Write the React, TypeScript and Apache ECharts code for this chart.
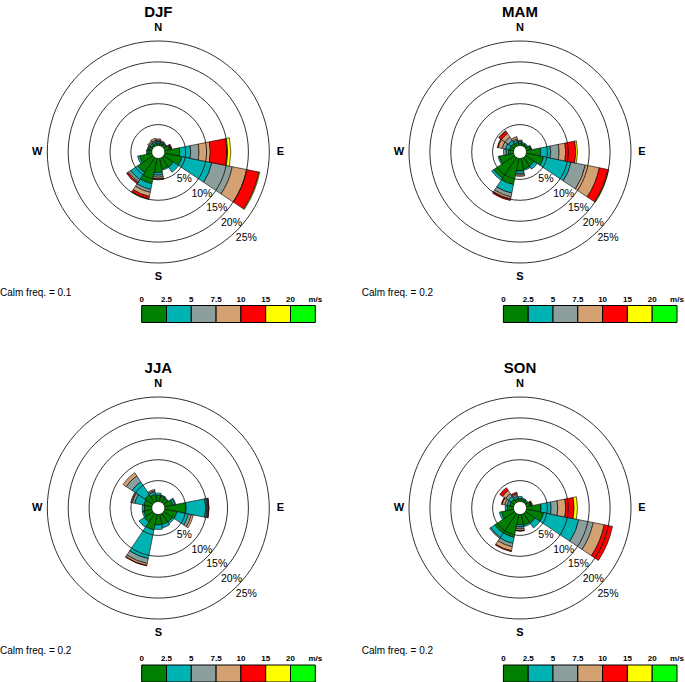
import React, { useEffect, useRef } from 'react';
import * as echarts from 'echarts';

// ---------- DATA ----------
const DIRECTIONS = ['N', 'NNE', 'NE', 'ENE', 'E', 'ESE', 'SE', 'SSE', 'S', 'SSW', 'SW', 'WSW', 'W', 'WNW', 'NW', 'NNW'];
const SPEED_BREAKS = ['0', '2.5', '5', '7.5', '10', '15', '20'];
const SPEED_UNIT = 'm/s';
const SPEED_COLORS = ['#008000', '#00B3B3', '#8C9F9C', '#D4A272', '#FF0000', '#FFFF00', '#00FF00'];
const GRID_PCT = [5, 10, 15, 20, 25];
const SEASONS = ['DJF', 'MAM', 'JJA', 'SON'];
const CALM_FREQ = ['0.1', '0.2', '0.2', '0.2'];

// frequency (%) by direction (N, NNE, ... NNW) for each speed bin
// DJF
const DJF_S1 = [0.6, 0.5, 0.6, 1.2, 3.6, 4.2, 2.8, 2.6, 3.4, 6.2, 4.4, 3.0, 1.0, 0.7, 0.5, 0.6];
const DJF_S2 = [0.4, 0.3, 0.2, 0.2, 2.6, 7.3, 1.5, 0.3, 0.6, 1.4, 2.0, 0.5, 0.3, 0.3, 0.4, 0.4];
const DJF_S3 = [0.3, 0.2, 0.2, 0.1, 2.0, 5.0, 0, 0, 0.5, 0.7, 0.6, 0, 0, 0.2, 0.3, 0.3];
const DJF_S4 = [0.3, 0.2, 0, 0.1, 2.7, 3.5, 0, 0, 0.4, 1.0, 0.3, 0, 0, 0, 0.3, 0.5];
const DJF_S5 = [0, 0, 0, 0.2, 4.0, 3.0, 0, 0, 0.2, 0.6, 0.3, 0, 0, 0, 0, 0];
const DJF_S6 = [0, 0, 0, 0, 0.9, 0.2, 0, 0, 0, 0.1, 0, 0, 0, 0, 0, 0];
const DJF_S7 = [0, 0, 0, 0, 0, 0, 0, 0, 0, 0, 0, 0, 0, 0, 0, 0];
// MAM
const MAM_S1 = [0.6, 0.5, 0.5, 1.0, 3.4, 4.2, 2.5, 2.6, 3.0, 6.4, 6.0, 3.5, 1.2, 1.0, 1.0, 0.8];
const MAM_S2 = [0.4, 0.3, 0.3, 0.2, 2.4, 6.7, 0.9, 0.3, 0.6, 2.1, 0.6, 0.3, 0.6, 1.0, 0.8, 0.5];
const MAM_S3 = [0.3, 0, 0, 0.1, 2.0, 3.5, 0, 0, 0.4, 0.9, 0, 0, 0.6, 0.8, 1.0, 0.4];
const MAM_S4 = [0, 0, 0, 0, 1.6, 3.4, 0, 0, 0.3, 0.5, 0, 0, 0, 1.0, 1.0, 0.5];
const MAM_S5 = [0, 0, 0, 0, 2.4, 2.1, 0, 0, 0, 0.4, 0, 0, 0, 0.2, 0.7, 0];
const MAM_S6 = [0, 0, 0, 0, 0.4, 0.2, 0, 0, 0, 0, 0, 0, 0, 0, 0.1, 0];
const MAM_S7 = [0, 0, 0, 0, 0, 0, 0, 0, 0, 0, 0, 0, 0, 0, 0, 0];
// JJA
const JJA_S1 = [1.5, 1.4, 1.2, 2.0, 5.1, 3.0, 2.5, 2.5, 2.5, 3.8, 2.5, 2.0, 1.8, 2.0, 2.3, 1.8];
const JJA_S2 = [0.5, 0.2, 0.2, 0.5, 4.7, 2.8, 0.5, 0.8, 1.1, 7.0, 1.5, 0.4, 0.5, 2.2, 3.7, 0.6];
const JJA_S3 = [0, 0, 0, 0.2, 0.5, 0.7, 0, 0, 0, 1.2, 0, 0, 0, 0.6, 1.7, 0.3];
const JJA_S4 = [0, 0, 0, 0, 0.2, 0.5, 0, 0, 0, 0.5, 0, 0, 0, 0.4, 0.9, 0.3];
const JJA_S5 = [0, 0, 0, 0, 0.1, 0, 0, 0, 0, 0.1, 0, 0, 0, 0, 0, 0];
const JJA_S6 = [0, 0, 0, 0, 0, 0, 0, 0, 0, 0, 0, 0, 0, 0, 0, 0];
const JJA_S7 = [0, 0, 0, 0, 0, 0, 0, 0, 0, 0, 0, 0, 0, 0, 0, 0];
// SON
const SON_S1 = [0.7, 0.6, 0.6, 1.0, 3.5, 4.2, 2.8, 2.6, 2.5, 5.6, 5.7, 3.0, 1.5, 1.0, 1.0, 0.8];
const SON_S2 = [0.5, 0.3, 0.2, 0.2, 2.4, 8.6, 1.4, 0.4, 0.5, 1.5, 1.2, 0.5, 0.5, 0.6, 0.8, 0.5];
const SON_S3 = [0, 0, 0, 0.1, 1.6, 3.5, 0, 0, 0.5, 0.8, 0.3, 0, 0, 0.6, 0.8, 0.4];
const SON_S4 = [0, 0, 0, 0, 1.9, 2.7, 0, 0, 0.4, 1.0, 0, 0, 0, 0.6, 0.9, 0.3];
const SON_S5 = [0, 0, 0, 0.2, 2.0, 2.0, 0, 0, 0.1, 0.2, 0, 0, 0, 0.2, 0.8, 0.3];
const SON_S6 = [0, 0, 0, 0, 0.8, 0, 0, 0, 0, 0, 0, 0, 0, 0, 0, 0];
const SON_S7 = [0, 0, 0, 0, 0, 0, 0, 0, 0, 0, 0, 0, 0, 0, 0, 0];

const SEASON_BINS = [
  [DJF_S1, DJF_S2, DJF_S3, DJF_S4, DJF_S5, DJF_S6, DJF_S7],
  [MAM_S1, MAM_S2, MAM_S3, MAM_S4, MAM_S5, MAM_S6, MAM_S7],
  [JJA_S1, JJA_S2, JJA_S3, JJA_S4, JJA_S5, JJA_S6, JJA_S7],
  [SON_S1, SON_S2, SON_S3, SON_S4, SON_S5, SON_S6, SON_S7],
];

// ---------- LAYOUT ----------
const FONT = '"Liberation Sans", Arial, Helvetica, sans-serif';
const PANEL_CENTERS = [
  [158.3, 152],
  [520, 152],
  [158.3, 508],
  [520, 508],
];
const OUTER_R = 111;
const R_MIN = -1.55;
const R_MAX = 25;
const LEGEND_TOP = [305.5, 305.5, 665, 665];
const CALM_Y = [292.5, 292.5, 650.5, 650.5];
const BOX_W = 24.8;
const BOX_H = 17;

function buildOption() {
  const polar: any[] = [];
  const angleAxis: any[] = [];
  const radiusAxis: any[] = [];
  const series: any[] = [];
  const graphic: any[] = [];

  SEASONS.forEach((name, i) => {
    const [cx, cy] = PANEL_CENTERS[i];
    polar.push({ center: [cx, cy], radius: [0, OUTER_R] });
    angleAxis.push({
      polarIndex: i,
      type: 'category',
      data: DIRECTIONS,
      startAngle: 90 + 360 / DIRECTIONS.length / 2,
      clockwise: true,
      boundaryGap: true,
      axisLine: { show: false },
      axisTick: { show: false },
      axisLabel: { show: false },
      splitLine: { show: false },
    });
    radiusAxis.push({
      polarIndex: i,
      type: 'value',
      min: R_MIN,
      max: R_MAX,
      axisLine: { show: false },
      axisTick: { show: false },
      axisLabel: { show: false },
      splitLine: { show: false },
    });

    SEASON_BINS[i].forEach((vals, b) => {
      series.push({
        type: 'bar',
        coordinateSystem: 'polar',
        polarIndex: i,
        stack: 'rose' + i,
        name: name + '-' + SPEED_BREAKS[b],
        barCategoryGap: '0%',
        data: vals.map((v) => (v > 0 ? v : '-')),
        itemStyle: { color: SPEED_COLORS[b], borderColor: '#000', borderWidth: 0.6 },
        z: 2,
        silent: true,
      });
    });

    series.push({
      type: 'custom',
      coordinateSystem: 'polar',
      polarIndex: i,
      clip: false,
      z: 5,
      silent: true,
      data: GRID_PCT.map((p) => [p, 0]),
      renderItem: (params: any, api: any) => {
        const pct = api.value(0);
        const cs = params.coordSys;
        const pt = api.coord([pct, 0]);
        const r = Math.hypot(pt[0] - cs.cx, pt[1] - cs.cy);
        const a = (135 * Math.PI) / 180;
        const lx = cs.cx + r * Math.sin(a);
        const ly = cs.cy - r * Math.cos(a);
        return {
          type: 'group',
          children: [
            {
              type: 'circle',
              shape: { cx: cs.cx, cy: cs.cy, r },
              style: { fill: 'none', stroke: '#1a1a1a', lineWidth: 0.9 },
            },
            {
              type: 'text',
              x: lx - 1,
              y: ly + 1,
              style: {
                text: pct + '%',
                fontSize: 10.5,
                fontFamily: FONT,
                fill: '#000',
                align: 'left',
                verticalAlign: 'top',
              },
            },
          ],
        };
      },
    });

    // title
    graphic.push({
      type: 'text',
      x: cx,
      y: cy - 141,
      style: { text: name, font: `bold 15px ${FONT}`, fill: '#000', align: 'center', verticalAlign: 'middle' },
    });
    // compass labels
    const compass = [
      ['N', 0, -125],
      ['E', 122, -1],
      ['S', 0, 124],
      ['W', -121, -1],
    ];
    compass.forEach(([t, dx, dy]) => {
      graphic.push({
        type: 'text',
        x: cx + (dx as number),
        y: cy + (dy as number),
        style: { text: t, font: `bold 11px ${FONT}`, fill: '#000', align: 'center', verticalAlign: 'middle' },
      });
    });
    // calm
    graphic.push({
      type: 'text',
      x: cx - 158.3,
      y: CALM_Y[i],
      style: { text: 'Calm freq. = ' + CALM_FREQ[i], font: `10px ${FONT}`, fill: '#000', align: 'left', verticalAlign: 'middle' },
    });
    // legend
    const lx0 = cx - 16.6;
    const ly0 = LEGEND_TOP[i];
    SPEED_COLORS.forEach((c, b) => {
      graphic.push({
        type: 'rect',
        shape: { x: lx0 + b * BOX_W, y: ly0, width: BOX_W, height: BOX_H },
        style: { fill: c, stroke: '#000', lineWidth: 1 },
      });
    });
    [...SPEED_BREAKS, SPEED_UNIT].forEach((t, b) => {
      graphic.push({
        type: 'text',
        x: lx0 + b * BOX_W,
        y: ly0 - 6.5,
        style: { text: t, font: `bold 8px ${FONT}`, fill: '#000', align: 'center', verticalAlign: 'middle' },
      });
    });
  });

  return {
    animation: false,
    backgroundColor: '#fff',
    polar,
    angleAxis,
    radiusAxis,
    series,
    graphic: { elements: graphic },
  };
}

export default function App() {
  const ref = useRef<HTMLDivElement>(null);
  useEffect(() => {
    if (!ref.current) return;
    const chart = echarts.init(ref.current, undefined, { renderer: 'svg' });
    chart.setOption(buildOption());
    return () => chart.dispose();
  }, []);
  return (
    <div
      ref={ref}
      style={{ position: 'fixed', left: 0, top: 0, width: 685, height: 682, background: '#fff' }}
    />
  );
}
